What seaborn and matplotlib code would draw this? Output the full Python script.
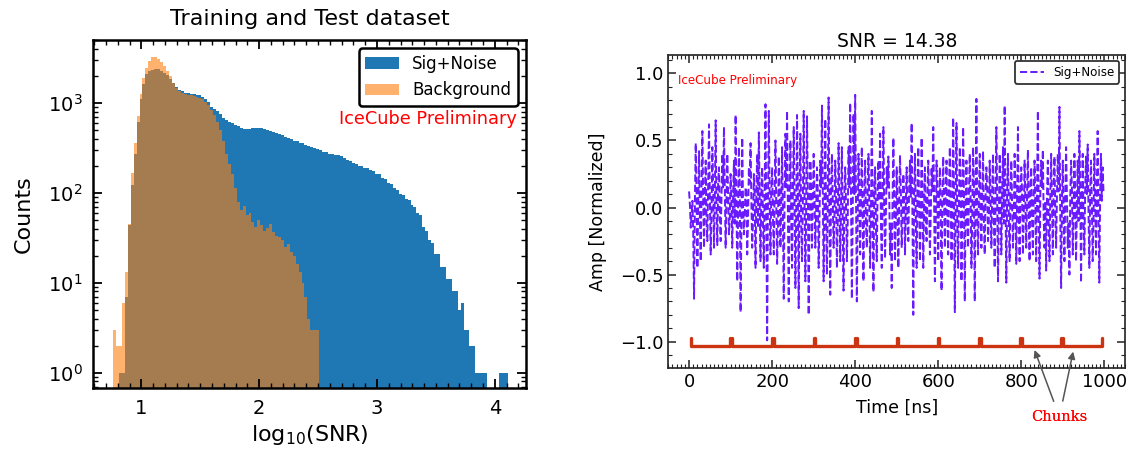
import numpy as np
import pandas as pd
import matplotlib
matplotlib.use("Agg")
import matplotlib.pyplot as plt
from matplotlib.ticker import AutoMinorLocator, MultipleLocator
import seaborn as sns

# --- left panel: log10(SNR) histograms, bins of 0.025 starting at 0.76 ---
bin_start = 0.76
bin_width = 0.025
sig_counts = [0, 0, 1, 1, 7, 44, 122, 272, 617, 1096,
              1620, 2090, 2240, 2345, 2390, 2370, 2290, 2170, 2040, 1840,
              1660, 1500, 1380, 1340, 1300, 1290, 1270, 1260, 1235, 1210,
              1175, 1110, 1020, 910, 860, 815, 760, 675, 645, 614,
              590, 568, 550, 525, 515, 508, 508, 525, 532, 525,
              520, 507, 495, 484, 473, 461, 450, 438, 422, 405,
              394, 380, 377, 360, 356, 338, 334, 320, 318, 305,
              299, 286, 283, 272, 270, 264, 265, 255, 246, 232,
              228, 216, 210, 200, 199, 190, 189, 180, 176, 163,
              163, 148, 143, 130, 126, 112, 108, 96, 95, 85,
              84, 74, 70, 60, 56, 42, 38, 30, 28, 21,
              21, 15, 15, 11, 11, 8, 8, 5, 6, 3,
              3, 2, 2, 1, 1, 1, 1, 0, 0, 0,
              0, 1, 1, 1]
bkg_counts = [3, 2, 2, 6, 13, 45, 165, 355, 710, 1260,
              1900, 2450, 2920, 3240, 3270, 3090, 2850, 2570, 2260, 1970,
              1680, 1480, 1360, 1290, 1240, 1225, 1210, 1195, 1170, 1140,
              1100, 1035, 950, 840, 730, 610, 495, 378, 273, 208,
              160, 112, 79, 65, 72, 56, 60, 47, 42, 50,
              44, 38, 41, 45, 37, 33, 32, 30, 25, 27,
              22, 20, 16, 13, 10, 7, 4, 3, 3, 3]

# --- right panel: one waveform, sampled every 2 ns ---
sample_step = 2
amp = [
    0.12, 0.02, -0.15, -0.05, 0.05, -0.20, -0.68, 0.05, 0.48, 0.10, -0.45, 0.02, 0.42, -0.08, -0.40, 0.15, 0.57, 0.05, -0.30, 0.12,
    0.35, -0.10, -0.25, 0.20, 0.62, 0.08, -0.35, -0.05, 0.45, 0.15, -0.30, 0.10, 0.65, -0.02, -0.28, 0.18, 0.30, -0.05, -0.25, 0.08,
    0.40, 0.15, 0.60, 0.12, -0.30, 0.05, 0.40, 0.10, -0.20, -0.08,
    0.25, 0.05, -0.30, 0.10, 0.35, -0.12, 0.69, 0.08, -0.55, -0.05, 0.45, 0.15, -0.78, -0.10, 0.52, 0.02, -0.20, -0.05, 0.15, 0.12,
    -0.35, -0.08, 0.30, 0.18, 0.48, 0.05, -0.30, -0.10, 0.25, 0.08, -0.45, 0.12, 0.40, -0.15, 0.56, 0.05, -0.40, 0.10, 0.30, -0.12,
    -0.45, 0.15, 0.77, -0.10, -0.99, 0.05, 0.72, 0.08, -0.35, 0.12,
    0.30, -0.08, -0.35, 0.12, 0.50, 0.05, -0.42, -0.15, 0.38, 0.10, -0.30, 0.02, 0.45, -0.12, -0.68, 0.08, 0.55, 0.15, 0.72, -0.05,
    -0.70, 0.10, 0.50, -0.08, -0.45, 0.12, 0.60, 0.05, -0.60, -0.10, 0.69, 0.08, -0.75, 0.15, 0.55, -0.12, -0.40, 0.05, 0.72, 0.10,
    -0.55, -0.05, 0.68, 0.12, -0.80, -0.08, 0.35, 0.15, -0.30, 0.05,
    0.40, 0.10, -0.30, -0.05, 0.30, 0.12, -0.45, -0.10, 0.35, 0.15, 0.76, 0.08, -0.55, 0.02, 0.66, -0.12, -0.50, 0.10, 0.82, -0.05,
    -0.65, 0.15, 0.40, 0.05, -0.30, -0.08, 0.35, 0.12, -0.45, -0.10, 0.48, 0.08, -0.40, 0.05, 0.45, -0.15, -0.62, 0.10, 0.30, 0.02,
    -0.40, -0.12, 0.45, 0.15, 0.78, 0.05, -0.68, -0.08, 0.70, 0.10,
    0.84, 0.05, -0.70, -0.10, 0.40, 0.08, -0.35, 0.12, 0.45, -0.05, -0.55, 0.10, 0.35, -0.12, -0.30, 0.15, 0.40, 0.05, -0.45, -0.08,
    0.72, 0.02, -0.63, 0.10, 0.30, -0.15, -0.40, 0.12, 0.35, 0.05, 0.55, -0.10, -0.45, 0.08, 0.60, 0.02, -0.38, -0.05, 0.30, 0.15,
    0.38, 0.10, -0.35, -0.12, -0.60, 0.05, 0.52, 0.08, -0.40, -0.05,
    0.30, -0.10, -0.45, 0.05, 0.39, 0.12, -0.30, -0.08, 0.25, 0.10, -0.35, 0.02, 0.30, -0.12, -0.25, 0.15, 0.35, 0.08, 0.63, -0.05,
    -0.80, 0.10, 0.40, -0.10, -0.45, 0.12, 0.45, 0.05, -0.40, -0.08, 0.52, 0.15, -0.45, 0.02, 0.30, -0.12, -0.25, 0.10, 0.35, 0.05,
    -0.35, -0.05, 0.30, 0.12, 0.60, 0.08, -0.55, -0.10, 0.35, 0.05,
    -0.40, 0.08, 0.30, -0.05, -0.62, 0.10, 0.38, 0.02, -0.30, 0.12, 0.35, -0.10, -0.35, 0.15, 0.45, 0.05, -0.40, -0.08, 0.67, 0.10,
    -0.78, 0.05, 0.63, -0.12, -0.45, 0.08, 0.45, 0.15, -0.55, -0.05, 0.60, 0.10, -0.70, 0.02, 0.35, -0.10, -0.30, 0.12, 0.40, 0.05,
    -0.45, -0.08, 0.45, 0.15, -0.70, 0.10, 0.81, -0.05, -0.35, 0.08,
    0.40, -0.05, -0.30, 0.10, 0.42, -0.12, -0.35, 0.08, 0.30, 0.15, -0.25, -0.08, 0.35, 0.05, -0.30, 0.12, 0.40, -0.10, -0.45, 0.02,
    0.60, 0.10, -0.55, -0.05, 0.40, 0.15, -0.35, 0.08, 0.45, -0.12, 0.76, 0.05, -0.56, 0.10, 0.40, -0.08, -0.40, 0.12, 0.35, 0.02,
    -0.30, -0.10, 0.40, 0.15, -0.42, 0.05, 0.60, -0.05, -0.40, 0.10,
    0.30, 0.12, -0.35, -0.08, 0.35, 0.05, -0.30, 0.10, 0.43, -0.05, -0.40, 0.15, 0.30, -0.10, -0.35, 0.08, 0.35, 0.02, -0.40, 0.12,
    0.72, -0.05, -0.53, 0.10, 0.35, 0.15, 0.43, -0.08, -0.30, 0.05, -0.47, 0.10, 0.35, -0.12, -0.40, 0.08, 0.40, 0.02, -0.35, 0.15,
    0.38, -0.05, -0.30, 0.10, 0.40, 0.12, 0.75, -0.08, -0.60, 0.05,
    0.35, -0.08, -0.40, 0.10, 0.45, 0.05, -0.30, -0.12, -0.50, 0.08, 0.35, 0.15, -0.35, -0.05, 0.40, 0.10, -0.40, 0.02, 0.35, -0.10,
    0.57, 0.12, -0.56, 0.05, 0.40, -0.08, -0.35, 0.15, 0.38, 0.10, 0.47, -0.05, -0.45, 0.12, 0.35, 0.02, -0.40, -0.10, 0.40, 0.08,
    -0.35, 0.15, 0.57, -0.05, -0.56, 0.10, 0.40, 0.05, 0.30, 0.12]
chunk_starts = [4, 103, 204, 304, 404, 504, 603, 702, 801, 900]
chunk_ends = [98, 200, 301, 400, 500, 599, 698, 797, 896, 995]
snr_value = 14.38

sns.set_style("ticks", {"xtick.direction": "in", "ytick.direction": "in",
                        "axes.edgecolor": "black", "text.color": "black",
                        "axes.labelcolor": "black", "xtick.color": "black",
                        "ytick.color": "black"})
plt.rcParams["font.family"] = ["DejaVu Sans"]

fig = plt.figure(figsize=(11.37, 4.59), dpi=100)
ax1 = fig.add_axes([0.0818, 0.154, 0.3808, 0.7588])
ax2 = fig.add_axes([0.5878, 0.1989, 0.4017, 0.6813])

# histograms
sig_df = pd.DataFrame({"snr": bin_start + bin_width * (np.arange(len(sig_counts)) + 0.5),
                       "n": sig_counts})
bkg_df = pd.DataFrame({"snr": bin_start + bin_width * (np.arange(len(bkg_counts)) + 0.5),
                       "n": bkg_counts})
sns.histplot(data=sig_df, x="snr", weights="n", bins=len(sig_counts),
             binrange=(bin_start, bin_start + bin_width * len(sig_counts)),
             color="#1f77b4", alpha=1, linewidth=0, ax=ax1, label="Sig+Noise")
sns.histplot(data=bkg_df, x="snr", weights="n", bins=len(bkg_counts),
             binrange=(bin_start, bin_start + bin_width * len(bkg_counts)),
             color="#ff7f0e", alpha=0.6, linewidth=0, ax=ax1, label="Background")
ax1.set_axisbelow(False)
ax1.set_yscale("log")
ax1.set_xlim(0.59, 4.265)
ax1.set_ylim(0.67, 5000)
ax1.set_title("Training and Test dataset", fontsize=16, pad=11)
ax1.set_xlabel(r"log$_{10}$(SNR)", fontsize=16, labelpad=4)
ax1.set_ylabel("Counts", fontsize=16, labelpad=10)
ax1.xaxis.set_minor_locator(AutoMinorLocator(10))
ax1.tick_params(which="both", direction="in", top=True, right=True, labelsize=14,
                pad=7.5, color="black")
ax1.tick_params(which="major", length=6.5, width=1.3)
ax1.tick_params(which="minor", length=3.5, width=1)
for s in ax1.spines.values():
    s.set_linewidth(1.8)
leg1 = ax1.legend(loc="upper right", fontsize=12, edgecolor="black", framealpha=1)
leg1.get_frame().set_linewidth(1.8)
ax1.text(0.979, 0.772, "IceCube Preliminary", color="red", fontsize=12.8,
         ha="right", va="center", transform=ax1.transAxes)

# waveform
t = np.arange(len(amp)) * sample_step
sns.lineplot(x=t, y=amp, ax=ax2, color="#6a1aff", linestyle="--", linewidth=1.4,
             label="Sig+Noise")
for s0, s1 in zip(chunk_starts, chunk_ends):
    ax2.plot([s0, s0, s1, s1], [-0.975, -1.033, -1.033, -0.975],
             color="#cc3311", linewidth=2.4, solid_joinstyle="round")
ax2.set_axisbelow(False)
ax2.set_xlim(-50, 1050)
ax2.set_ylim(-1.194, 1.137)
ax2.set_title(f"SNR = {snr_value}", fontsize=13.5)
ax2.set_xlabel("Time [ns]", fontsize=12.5, labelpad=6)
ax2.set_ylabel("Amp [Normalized]", fontsize=12.5, labelpad=9.5)
ax2.xaxis.set_minor_locator(AutoMinorLocator(20))
ax2.yaxis.set_minor_locator(MultipleLocator(0.1))
ax2.tick_params(which="both", direction="in", top=True, right=True, labelsize=13,
                color="#222222")
ax2.tick_params(which="major", length=6, width=1.1)
ax2.tick_params(which="minor", length=3, width=0.8)
for s in ax2.spines.values():
    s.set_linewidth(1.3)
    s.set_color("#333333")
leg2 = ax2.legend(loc="upper right", fontsize=8.6, edgecolor="#333333", framealpha=1)
leg2.get_frame().set_linewidth(1.3)
ax2.text(-26, 0.95, "IceCube Preliminary", color="red", fontsize=8.6,
         ha="left", va="center")
for tip in [(832, -1.062), (925, -1.074)]:
    ax2.annotate("Chunks", xy=tip, xytext=(892, -1.56), ha="center", va="center",
                 color="red", fontsize=10.5, family="DejaVu Serif",
                 annotation_clip=False,
                 arrowprops=dict(arrowstyle="-|>", color="#555555", lw=1.1,
                                 shrinkA=4, shrinkB=0))

fig.savefig("out.png", dpi=100)
